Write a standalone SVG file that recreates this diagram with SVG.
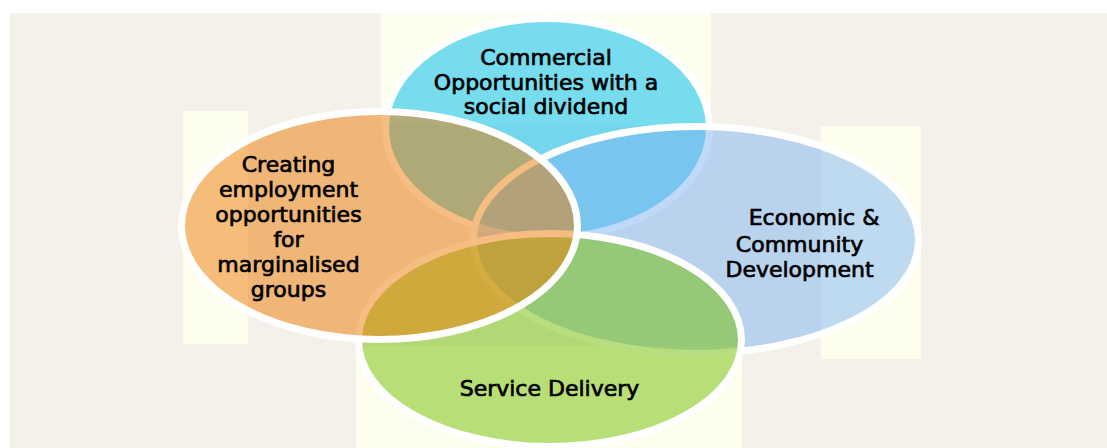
<svg xmlns="http://www.w3.org/2000/svg" width="1107" height="448" viewBox="0 0 1107 448">
<style>
.lbl{font-family:"DejaVu Sans","Liberation Sans",sans-serif;font-size:22px;fill:#000;stroke:#000;stroke-width:0.7;text-anchor:middle}
.ring{stroke:#fff;stroke-width:7}
.box{fill:#fefeef}
</style>
<rect x="0" y="0" width="1107" height="448" fill="#fff"/>
<rect x="10" y="13" width="1097" height="435" fill="#f4f1ea"/>
<g id="textboxes">
<rect class="box" x="183" y="111" width="65" height="233"/>
<rect class="box" x="381" y="13" width="330" height="112"/>
<rect class="box" x="821" y="126" width="100" height="233"/>
<rect class="box" x="356" y="346" width="386" height="102"/>
</g>
<g id="connectors"></g>
<g id="node-commercial">
<ellipse class="ring" cx="547.5" cy="128" rx="162" ry="109.5" fill="rgb(27,197,237)" fill-opacity="0.6"/>
<text class="lbl" x="546" y="65">Commercial</text>
<text class="lbl" x="546" y="89.5">Opportunities with a</text>
<text class="lbl" x="546" y="114">social dividend</text>
</g>
<g id="node-economic">
<ellipse class="ring" cx="696" cy="240" rx="222.5" ry="113.5" fill="rgb(126,181,242)" fill-opacity="0.5"/>
<text class="lbl" x="814" y="225">Economic &amp;</text>
<text class="lbl" x="799.5" y="251.5">Community</text>
<text class="lbl" x="799.5" y="277">Development</text>
</g>
<g id="node-service">
<ellipse class="ring" cx="550" cy="340" rx="191.5" ry="106.5" fill="rgb(114,190,0)" fill-opacity="0.5"/>
<text class="lbl" x="549.5" y="396">Service Delivery</text>
</g>
<g id="node-employment">
<ellipse class="ring" cx="379.5" cy="225.5" rx="198" ry="114" fill="rgb(236,123,4)" fill-opacity="0.5"/>
<text class="lbl" x="288.5" y="172">Creating</text>
<text class="lbl" x="288.5" y="197">employment</text>
<text class="lbl" x="288.5" y="222">opportunities</text>
<text class="lbl" x="288.5" y="247">for</text>
<text class="lbl" x="288.5" y="272">marginalised</text>
<text class="lbl" x="288.5" y="297">groups</text>
</g>
</svg>
